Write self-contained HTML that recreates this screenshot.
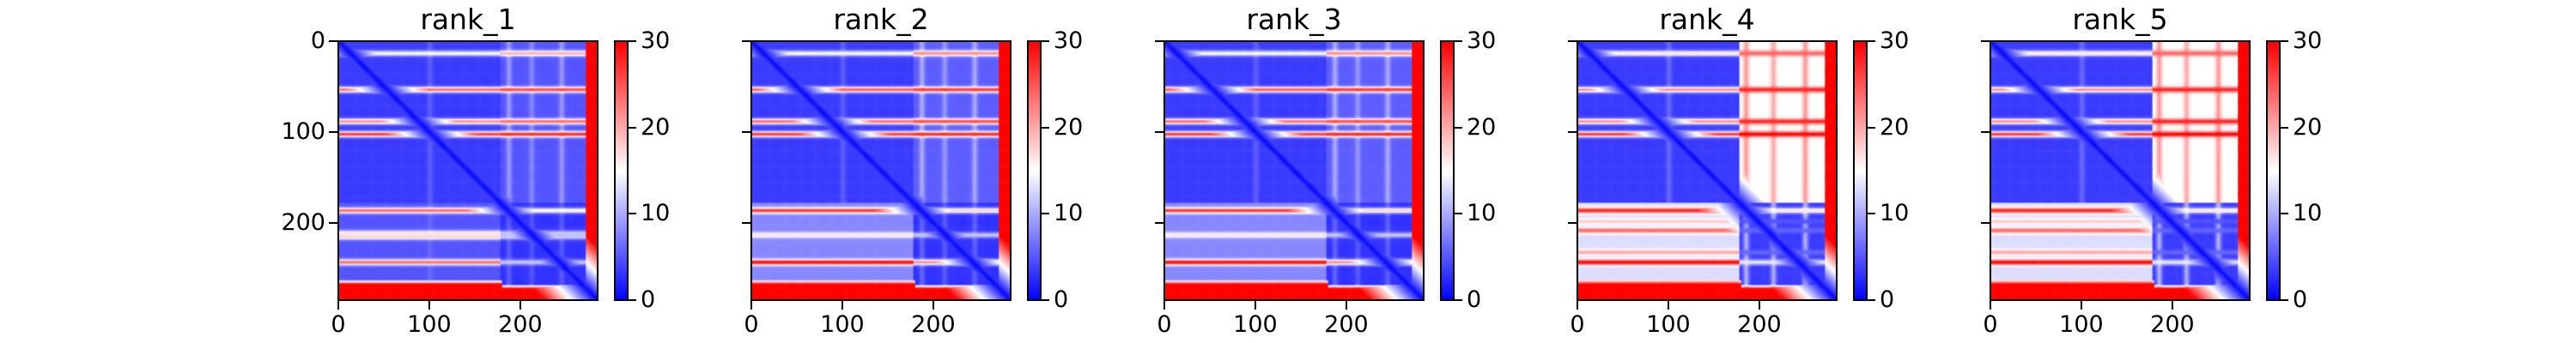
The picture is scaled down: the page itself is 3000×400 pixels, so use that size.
<!DOCTYPE html>
<html><head><meta charset="utf-8">
<style>
body{margin:0;background:#fff;}
#fig{position:relative;width:3000px;height:400px;background:#fff;font-family:"DejaVu Sans","Liberation Sans",sans-serif;color:#000;overflow:hidden;}
.t{position:absolute;white-space:nowrap;line-height:1;}
canvas{position:absolute;}
.frame{position:absolute;border:2px solid #000;box-sizing:border-box;}
.tick{position:absolute;background:#000;}
</style></head>
<body>
<div id="fig"></div>
<script>
const panelNames = ["rank_1","rank_2","rank_3","rank_4","rank_5"];
const nRes = 285;
const segBounds = [178, 272];
const blockAA = [3.5, 3.5, 3.5, 3.5, 3.5];
const blockAB = [5, 5.5, 5.5, 15, 15];
const blockBA = [5, 8, 8, 13, 13];
const blockBB = [3, 3, 3, 3.5, 3.5];
const rowStripes1 = [[13,15,20],[53,24,26],[88,22,24],[102,27,28],[186,24,16],[211,17,12],[215,18,12],[243,24,12]];
const rowStripes2 = [[13,15,22],[53,25,27],[88,24,26],[102,27,28],[186,27,18],[213,17,12],[243,30,22]];
const rowStripes3 = [[13,15,22],[53,25,27],[88,24,26],[102,27,28],[186,27,18],[213,17,12],[243,30,22]];
const rowStripes4 = [[13,17,24],[53,22,28],[88,22,28],[102,27,30],[186,28,17],[198,18,5],[208,24,6],[232,20,6],[243,30,14]];
const rowStripes5 = [[13,17,24],[53,22,28],[88,22,28],[102,27,30],[186,28,17],[198,18,5],[208,24,6],[232,20,6],[243,30,14]];
const colStripes1 = [[100,7],[187,9],[212,8],[245,9]];
const colStripes2 = [[100,7],[187,10],[212,9],[245,10]];
const colStripes3 = [[100,7],[187,10],[212,9],[245,10]];
const colStripes4 = [[100,8],[185,21],[215,20],[250,21]];
const colStripes5 = [[100,8],[185,21],[215,20],[250,21]];
const allRowStripes = [rowStripes1,rowStripes2,rowStripes3,rowStripes4,rowStripes5];
const allColStripes = [colStripes1,colStripes2,colStripes3,colStripes4,colStripes5];
const xTicks = [0,100,200];
const cbTicks = [0,10,20,30];
const vmax = 30;

const fig = document.getElementById('fig');
const L0 = 394, DX = 481, TOP = 48, SZ = 302;

function bwr(v){
  const t = Math.max(0, Math.min(1, v / vmax));
  let r,g,b;
  if (t < 0.5){ const s=t/0.5; r=Math.round(255*s); g=r; b=255; }
  else { const s=(t-0.5)/0.5; r=255; g=Math.round(255*(1-s)); b=g; }
  return `rgb(${r},${g},${b})`;
}
function value(p, i, j){
  const A = segBounds[0], B = segBounds[1];
  const ra = i < A, ca = j < A;
  let v;
  if (i >= B || j >= B) v = 30;
  else if (ra && ca) v = blockAA[p];
  else if (ra) v = blockAB[p];
  else if (ca) v = blockBA[p];
  else v = blockBB[p];
  if (j < B && i < B){
    for (const s of allColStripes[p]){
      const d = j - s[0]; const w = Math.exp(-(d*d)/10);
      if (s[1] > v) v = v + (s[1]-v)*w*(s[0] < A ? 0.6 : (ra ? 1 : 0.4));
    }
    for (const s of allRowStripes[p]){
      const d = i - s[0]; const w = Math.exp(-(d*d)/9);
      const tgt = ca ? s[1] : s[2];
      v = v + (tgt - v)*w;
    }
    if (i >= 262){
      const lim = j < 180 ? 266 : 271;
      const w = Math.max(0, Math.min(1, (i - lim + 4)/5));
      v = v + (30 - v)*w;
    }
  }
  const dd = Math.abs(i-j);
  v = Math.min(v, 0.5 + dd*0.5);
  return v;
}
function addText(txt, x, y, size, align, name){
  const d = document.createElement('div');
  d.className='t';
  
  
  d.textContent = txt;
  d.style.fontSize = size+'px';
  d.style.top = y+'px';
  if (align==='center'){ d.style.left=x+'px'; d.style.transform='translateX(-50%)'; }
  else if (align==='right'){ d.style.right=(3000-x)+'px'; }
  else d.style.left=x+'px';
  fig.appendChild(d);
}
function addTick(x,y,w,h,name){
  const d=document.createElement('div');
  d.className='tick';
  
  
  d.style.left=x+'px';d.style.top=y+'px';d.style.width=w+'px';d.style.height=h+'px';
  fig.appendChild(d);
}

panelNames.forEach((nm, p) => {
  const left = L0 + DX*p;
  const sx = r => left + r * SZ / nRes;
  const sy = r => TOP + r * SZ / nRes;
  const cv = document.createElement('canvas');
  
  
  cv.width = SZ; cv.height = SZ;
  cv.style.left = left+'px'; cv.style.top = TOP+'px';
  fig.appendChild(cv);
  const ctx = cv.getContext('2d');
  const cw = SZ/nRes + 0.6;
  for (let i=0;i<nRes;i++){
    for (let j=0;j<nRes;j++){
      ctx.fillStyle = bwr(value(p,i,j));
      ctx.fillRect(sx(j)-left, sy(i)-TOP, cw, cw);
    }
  }
  const fr = document.createElement('div');
  fr.className='frame';
  
  
  fr.style.left=(left-1)+'px'; fr.style.top=(TOP-1)+'px'; fr.style.width=(SZ+2)+'px'; fr.style.height=(SZ+2)+'px';
  fig.appendChild(fr);
  addText(nm, left+SZ/2, 6, 33, 'center', 'panel-title');
  xTicks.forEach(t => {
    addTick(sx(t)-1, TOP+SZ+1, 2, 10, 'x-tick');
    addText(String(t), sx(t), TOP+SZ+15, 27, 'center', 'x-tick-label');
    addTick(left-11, sy(t)-1, 10, 2, 'y-tick');
    if (p===0) addText(String(t), left-15, sy(t)-14, 27, 'right', 'y-tick-label');
  });
  const cbx = left + 322, cbw = 15;
  const cb = document.createElement('canvas');
  
  
  cb.width=cbw; cb.height=SZ; cb.style.left=cbx+'px'; cb.style.top=TOP+'px';
  fig.appendChild(cb);
  const c2 = cb.getContext('2d');
  for (let k=0;k<SZ;k++){ c2.fillStyle = bwr(vmax*(1-k/SZ)); c2.fillRect(0,k,cbw,1); }
  const cf = document.createElement('div');
  cf.className='frame';
  
  
  cf.style.left=(cbx-1)+'px'; cf.style.top=(TOP-1)+'px'; cf.style.width=(cbw+2)+'px'; cf.style.height=(SZ+2)+'px';
  fig.appendChild(cf);
  cbTicks.forEach(t => {
    const y = TOP + SZ*(1 - t/vmax);
    addTick(cbx+cbw+1, y-1, 9, 2, 'colorbar-tick');
    addText(String(t), cbx+cbw+15, y-14, 27, 'left', 'colorbar-tick-label');
  });
});
</script>
</body></html>
